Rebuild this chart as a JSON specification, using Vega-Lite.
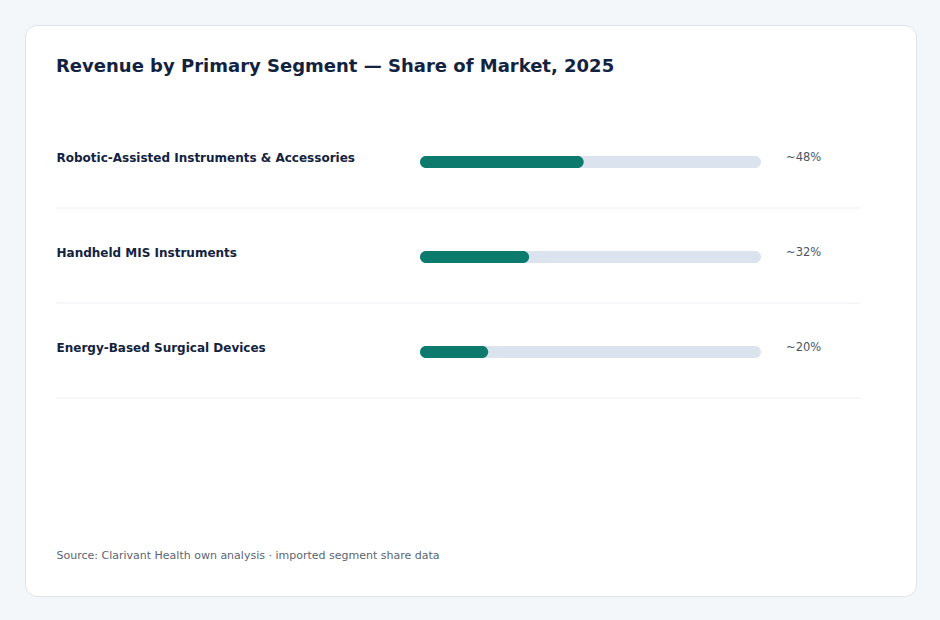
{
  "$schema": "https://vega.github.io/schema/vega-lite/v6.json",
  "width": 891,
  "height": 571,
  "autosize": {"type": "none"},
  "padding": {"left": 25, "top": 25, "right": 24, "bottom": 24},
  "background": "#f4f7fa",
  "config": {
    "view": {"fill": "#ffffff", "stroke": "#dde3ea", "strokeWidth": 1, "cornerRadius": 12},
    "font": "DejaVu Sans"
  },
  "title": {
    "text": "Revenue by Primary Segment — Share of Market, 2025",
    "anchor": "start",
    "frame": "group",
    "orient": "top",
    "offset": 0,
    "dx": 31,
    "dy": 60,
    "baseline": "middle",
    "fontSize": 18,
    "fontWeight": "bold",
    "color": "#13233f",
    "font": "DejaVu Sans"
  },
  "data": {
    "values": [
      {"segment": "Robotic-Assisted Instruments & Accessories", "share": 48},
      {"segment": "Handheld MIS Instruments", "share": 32},
      {"segment": "Energy-Based Surgical Devices", "share": 20}
    ]
  },
  "transform": [
    {"calculate": "'~' + datum.share + '%'", "as": "share_label"}
  ],
  "encoding": {
    "y": {
      "field": "segment",
      "type": "nominal",
      "sort": null,
      "scale": {"type": "band", "range": [88, 373], "paddingInner": 0, "paddingOuter": 0},
      "axis": {
        "orient": "left",
        "offset": -31,
        "title": null,
        "ticks": false,
        "tickSize": 0,
        "domain": false,
        "grid": false,
        "labelAlign": "left",
        "labelPadding": 0,
        "labelBaseline": "middle",
        "labelOffset": -2.5,
        "labelFontSize": 12,
        "labelFontWeight": "bold",
        "labelColor": "#13233f",
        "labelFont": "DejaVu Sans",
        "labelLimit": 0
      }
    }
  },
  "layer": [
    {
      "mark": {"type": "bar", "color": "#dae3ee", "height": 12, "yOffset": 1.5, "cornerRadius": 6},
      "encoding": {
        "x": {
          "datum": 0,
          "type": "quantitative",
          "scale": {"domain": [0, 100], "range": [395, 736]},
          "axis": {
            "orient": "bottom",
            "labels": false,
            "ticks": false,
            "domain": false,
            "grid": false,
            "title": "Source: Clarivant Health own analysis · imported segment share data",
            "titleAlign": "left",
            "titleAnchor": "start",
            "titleX": 31,
            "titleY": 0,
            "titleBaseline": "middle",
            "offset": -41,
            "titleFontSize": 11,
            "titleFontWeight": "normal",
            "titleColor": "#5b6573",
            "titleFont": "DejaVu Sans"
          }
        },
        "x2": {"datum": 100}
      }
    },
    {
      "mark": {"type": "bar", "color": "#0c7b6e", "height": 12, "yOffset": 1.5, "cornerRadius": 6},
      "encoding": {
        "x": {"field": "share", "type": "quantitative"},
        "x2": {"datum": 0}
      }
    },
    {
      "mark": {"type": "rule", "color": "#edf0f4", "strokeWidth": 1},
      "encoding": {
        "y": {"field": "segment", "type": "nominal", "sort": null, "bandPosition": 1},
        "x": {"datum": -106.7, "type": "quantitative"},
        "x2": {"datum": 129.3}
      }
    },
    {
      "mark": {"type": "text", "align": "left", "baseline": "middle", "dx": 25, "dy": -2.5, "fontSize": 11.5, "color": "#4a5565", "font": "DejaVu Sans"},
      "encoding": {
        "x": {"datum": 100, "type": "quantitative"},
        "text": {"field": "share_label"}
      }
    }
  ]
}
